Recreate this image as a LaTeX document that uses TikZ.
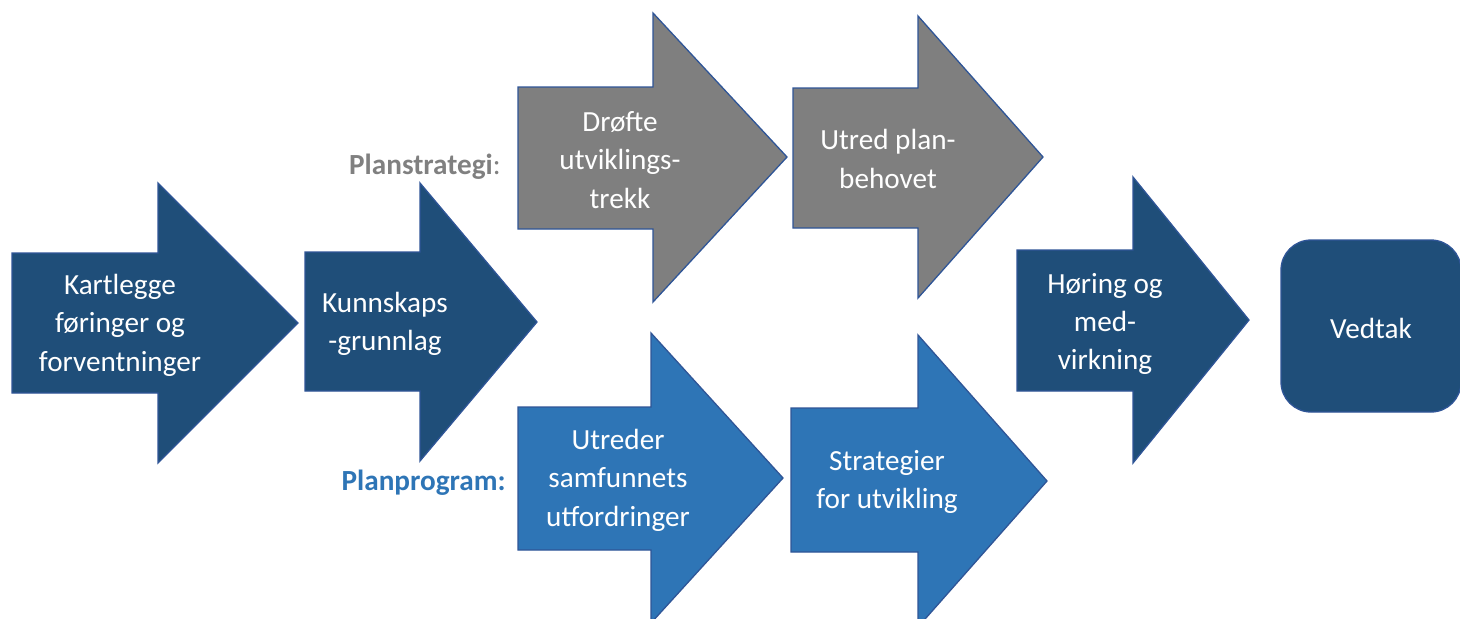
\documentclass[tikz,border=0pt]{standalone}
\usepackage{fontspec}
\setmainfont{Carlito}
\definecolor{dkblue}{HTML}{1F4E79}
\definecolor{ltblue}{HTML}{2E75B6}
\definecolor{midgray}{HTML}{7F7F7F}
\definecolor{edgeblue}{HTML}{2F5597}
\definecolor{lblgray}{HTML}{808080}
\begin{document}
\begin{tikzpicture}[x=0.5pt,y=-0.5pt]
\tikzset{
  arrowshape/.style={draw=edgeblue, line width=0.65pt, line join=miter},
  lbl/.style={text=white, align=center, font=\fontsize{14.6}{19.2}\selectfont, inner sep=0pt},
  sidelbl/.style={font=\fontsize{14.6}{19}\selectfont\bfseries, inner sep=0pt, anchor=east},
}
\useasboundingbox (0,0) rectangle (1460,618);
\clip (0,0) rectangle (1460,618);
% arrow 1
\filldraw[arrowshape, fill=dkblue] (12,253) -- (158,253) -- (158,183) -- (298,323) -- (158,463) -- (158,393) -- (12,393) -- cycle;
\node[lbl] (kart) at (120,325) {Kartlegge\\føringer og\\forventninger};
% arrow 2
\filldraw[arrowshape, fill=dkblue] (305,252) -- (420,252) -- (420,183) -- (537,322) -- (420,461) -- (420,391) -- (305,391) -- cycle;
\node[lbl] (kunn) at (385,324) {Kunnskaps\\-grunnlag};
% arrow 3
\filldraw[arrowshape, fill=midgray] (518,87) -- (653,87) -- (653,13) -- (787,157) -- (653,302) -- (653,229) -- (518,229) -- cycle;
\node[lbl] (drofte) at (620,160) {Drøfte\\utviklings-\\trekk};
% arrow 4
\filldraw[arrowshape, fill=midgray] (793,88) -- (918,88) -- (918,16) -- (1043,157) -- (918,298) -- (918,228) -- (793,228) -- cycle;
\node[lbl] (utred) at (888,159) {Utred plan-\\behovet};
% arrow 5
\filldraw[arrowshape, fill=ltblue] (518,407) -- (651,407) -- (651,333) -- (783,478) -- (651,623) -- (651,550) -- (518,550) -- cycle;
\node[lbl] (utreder) at (618,480) {Utreder\\samfunnets\\utfordringer};
% arrow 6
\filldraw[arrowshape, fill=ltblue] (791,408) -- (918,408) -- (918,335) -- (1047,481) -- (918,627) -- (918,552) -- (791,552) -- cycle;
\node[lbl] (strat) at (887,482) {Strategier\\for utvikling};
% arrow 7
\filldraw[arrowshape, fill=dkblue] (1017,250) -- (1133,250) -- (1133,177) -- (1249,320) -- (1133,463) -- (1133,391) -- (1017,391) -- cycle;
\node[lbl] (horing) at (1105,324) {Høring og\\med-\\virkning};
% vedtak
\filldraw[arrowshape, fill=dkblue, rounded corners=15pt] (1281,240) rectangle (1461,412);
\node[lbl] (vedtak) at (1371,328) {Vedtak};
% side labels
\node[sidelbl, text=lblgray] (ps) at (501,167) {Planstrategi\mdseries:};
\node[sidelbl, text=ltblue] (pp) at (506,483) {Planprogram:};
\end{tikzpicture}
\end{document}
